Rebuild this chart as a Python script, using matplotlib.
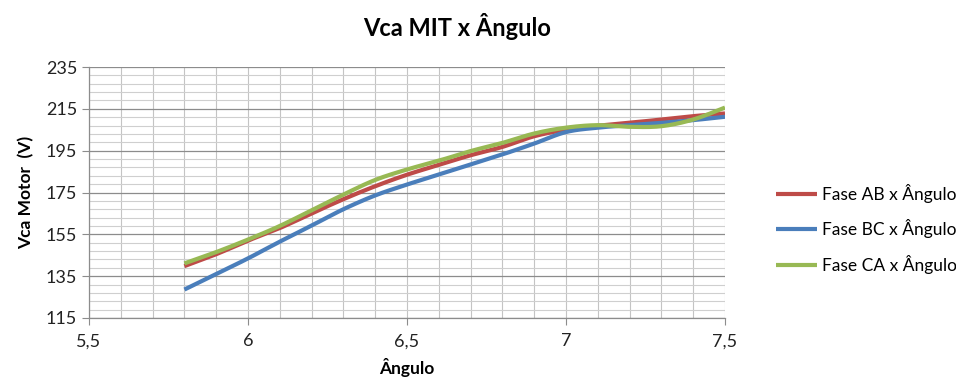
# Vca do motor em funcao do angulo de disparo, tres fases
import numpy as np
import matplotlib.pyplot as plt
from matplotlib.ticker import MultipleLocator, FuncFormatter

plt.rcParams['font.family'] = ['Lato', 'DejaVu Sans']

angulo = [5.8, 5.9, 6.0, 6.1, 6.2, 6.3, 6.4, 6.5, 6.6, 6.7, 6.8, 6.9, 7.0, 7.1, 7.2, 7.3, 7.4, 7.5]
fase_ab = [139.8, 145.5, 152.0, 158.0, 165.0, 171.8, 178.0, 183.5, 188.2, 192.8, 196.8, 201.9, 205.0, 206.9, 208.3, 209.9, 211.5, 212.8]
fase_bc = [128.6, 136.0, 143.5, 151.5, 159.2, 167.0, 173.6, 178.8, 183.6, 188.4, 193.2, 198.4, 203.9, 206.0, 207.2, 208.3, 209.6, 211.2]
fase_ca = [141.1, 146.5, 152.5, 159.0, 166.5, 174.0, 181.0, 186.0, 190.2, 194.8, 198.7, 203.2, 206.0, 207.2, 206.4, 206.7, 209.9, 215.6]

series = [
    ('Fase AB x Ângulo', fase_ab, '#BE4B48'),
    ('Fase BC x Ângulo', fase_bc, '#4A7EBB'),
    ('Fase CA x Ângulo', fase_ca, '#98B954'),
]


def suaviza(x, y, n=20):
    # curva de Bezier entre pontos, tipo "linha suavizada" do Excel
    x = np.asarray(x, float)
    y = np.asarray(y, float)
    p = np.column_stack([x, y])
    pts = np.vstack([p[0], p, p[-1]])
    t = np.linspace(0, 1, n)[:, None]
    out = []
    for i in range(1, len(pts) - 2):
        p0, p1, p2, p3 = pts[i - 1], pts[i], pts[i + 1], pts[i + 2]
        c1 = p1 + (p2 - p0) / 6
        c2 = p2 - (p3 - p1) / 6
        seg = ((1 - t) ** 3) * p1 + 3 * ((1 - t) ** 2) * t * c1 + 3 * (1 - t) * t ** 2 * c2 + t ** 3 * p2
        out.append(seg if i == 1 else seg[1:])
    out = np.vstack(out)
    return out[:, 0], out[:, 1]


fig = plt.figure(figsize=(9.56, 3.83), dpi=100)
ax = fig.add_axes([89 / 956, 1 - 318 / 383, 636 / 956, 251 / 383])

for nome, vals, cor in series:
    xs, ys = suaviza(angulo, vals)
    ax.plot(xs, ys, color=cor, lw=3.0, label=nome, solid_capstyle='butt', zorder=3)

ax.set_xlim(5.5, 7.5)
ax.set_ylim(115, 235)
ax.xaxis.set_major_locator(MultipleLocator(0.5))
ax.xaxis.set_minor_locator(MultipleLocator(0.1))
ax.yaxis.set_major_locator(MultipleLocator(20, offset=15))
ax.yaxis.set_minor_locator(MultipleLocator(4, offset=3))
ax.xaxis.set_major_formatter(FuncFormatter(lambda v, _: ('%g' % v).replace('.', ',')))

ax.grid(which='major', axis='y', color='#8c8c8c', lw=0.9)
ax.grid(which='minor', axis='y', color='#cfcfcf', lw=0.8)
ax.grid(which='both', axis='x', color='#c4c4c4', lw=0.8)
ax.set_axisbelow(True)

for s in ['top', 'right']:
    ax.spines[s].set_visible(False)
for s in ['left', 'bottom']:
    ax.spines[s].set_color('#8c8c8c')
    ax.spines[s].set_linewidth(0.9)

ax.tick_params(which='major', length=5, color='#8c8c8c', labelsize=13, labelcolor='#222222')
ax.tick_params(which='minor', length=0)
ax.tick_params(axis='x', pad=6)

ax.set_xlabel('Ângulo', fontsize=12.5, fontweight='bold', labelpad=6)
ax.set_ylabel('Vca Motor  (V)', fontsize=12.5, fontweight='bold', labelpad=8)
fig.text(457 / 956, 1 - 27 / 383, 'Vca MIT x Ângulo', ha='center', va='center',
         fontsize=17, fontweight='bold')

ax.legend(loc='center left', bbox_to_anchor=(760 / 956, 1 - 229 / 383), bbox_transform=fig.transFigure,
          frameon=False, fontsize=12.5, handlelength=2.4, labelspacing=0.95, handletextpad=0.3)

fig.savefig('out.png', dpi=100)
